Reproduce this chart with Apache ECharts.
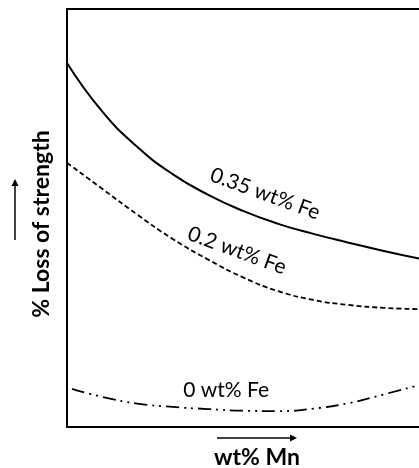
<!DOCTYPE html>
<html>
<head>
<meta charset="utf-8">
<script src="https://cdn.jsdelivr.net/npm/echarts@6/dist/echarts.min.js"></script>
<style>
html,body{margin:0;padding:0;background:#fff;}
#c{width:419px;height:468px;}
</style>
</head>
<body>
<div id="c"></div>
<script>
// x positions (arbitrary wt% Mn units, 0..10)
const mnX = [0, 1, 2, 3, 4, 5, 6, 7, 8, 9, 10];
// % loss of strength (arbitrary units, 0..10)
const fe035 = [8.71, 7.55, 6.70, 6.05, 5.56, 5.17, 4.86, 4.62, 4.41, 4.21, 4.03];
const fe02  = [6.32, 5.70, 5.08, 4.50, 4.01, 3.58, 3.25, 3.04, 2.92, 2.85, 2.82];
const fe0X  = [0.14, 1, 2, 3, 4, 5, 6, 7, 8, 9, 10];
const fe0   = [0.91, 0.72, 0.56, 0.48, 0.43, 0.39, 0.38, 0.44, 0.57, 0.78, 1.00];
const seriesNames = ['0.35 wt% Fe', '0.2 wt% Fe', '0 wt% Fe'];
// label anchor points in data units
const labelPos = [[5.63, 5.58], [4.83, 4.22], [4.52, 0.87]];
const labelRot = [-20, -20, 0];
const xTitle = 'wt% Mn';
const yTitle = '% Loss of strength';

const pairs = (xs, ys) => xs.map((x, i) => [x, ys[i]]);
const FONT = 'Lato, "Open Sans", sans-serif';

const chart = echarts.init(document.getElementById('c'), null, {renderer: 'canvas'});
const axisLineStyle = {show: true, lineStyle: {color: '#000', width: 2}};
const lineBase = {type: 'line', smooth: 0.5, symbol: 'none'};
chart.setOption({
  animation: false,
  backgroundColor: '#fff',
  grid: {left: 67, right: 0, top: 9, bottom: 41},
  xAxis: [
    {type: 'value', min: 0, max: 10, position: 'bottom', axisLine: axisLineStyle,
     axisTick: {show: false}, axisLabel: {show: false}, splitLine: {show: false}},
    {type: 'value', min: 0, max: 10, position: 'top', axisLine: axisLineStyle,
     axisTick: {show: false}, axisLabel: {show: false}, splitLine: {show: false}}
  ],
  yAxis: {type: 'value', min: 0, max: 10, axisLine: axisLineStyle,
     axisTick: {show: false}, axisLabel: {show: false}, splitLine: {show: false}},
  series: [
    Object.assign({name: seriesNames[0], data: pairs(mnX, fe035),
     lineStyle: {color: '#000', width: 2, type: 'solid'}}, lineBase),
    Object.assign({name: seriesNames[1], data: pairs(mnX, fe02),
     lineStyle: {color: '#000', width: 1.8, type: [5, 3]}}, lineBase),
    Object.assign({name: seriesNames[2], data: pairs(fe0X, fe0),
     lineStyle: {color: '#000', width: 1.8, type: [13, 5, 2, 5, 2, 5]}}, lineBase)
  ],
  graphic: [
    {type: 'text', id: 'ytitle', x: 42, y: 224, rotation: Math.PI / 2,
     style: {text: yTitle, font: 'bold 23px ' + FONT, fill: '#000', align: 'center', verticalAlign: 'middle'}},
    {type: 'text', id: 'xtitle', x: 257, y: 458,
     style: {text: xTitle, font: 'bold 23px ' + FONT, fill: '#000', align: 'center', verticalAlign: 'middle'}},
    {type: 'line', id: 'yarrow', shape: {x1: 15, y1: 240, x2: 15, y2: 181}, style: {stroke: '#000', lineWidth: 1.5}},
    {type: 'polygon', id: 'yarrowhead', shape: {points: [[15, 179], [11.5, 186], [18.5, 186]]}, style: {fill: '#000'}},
    {type: 'line', id: 'xarrow', shape: {x1: 217, y1: 438, x2: 294, y2: 438}, style: {stroke: '#000', lineWidth: 1.5}},
    {type: 'polygon', id: 'xarrowhead', shape: {points: [[297, 438], [290, 434.5], [290, 441.5]]}, style: {fill: '#000'}}
  ]
});

const labels = labelPos.map((p, i) => {
  const px = chart.convertToPixel({xAxisIndex: 0, yAxisIndex: 0}, p);
  return {type: 'text', id: 'lab' + i, x: px[0], y: px[1], rotation: labelRot[i] * Math.PI / 180,
    style: {text: seriesNames[i], font: '21px ' + FONT, fill: '#000', align: 'center', verticalAlign: 'middle'}};
});
chart.setOption({graphic: labels});
</script>
</body>
</html>
